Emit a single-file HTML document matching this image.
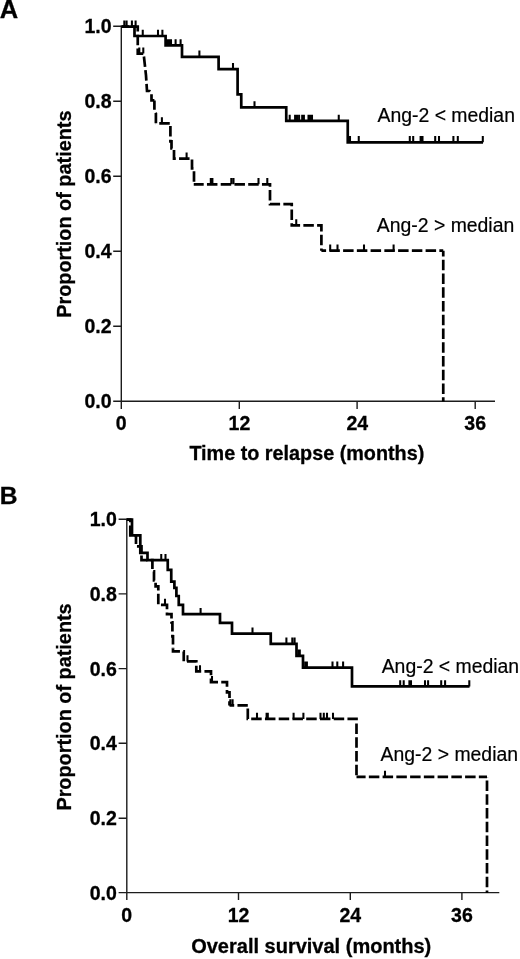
<!DOCTYPE html>
<html>
<head>
<meta charset="utf-8">
<title>Kaplan-Meier: Ang-2 vs median</title>
<style>
html,body{margin:0;padding:0;background:#fff;}
body{width:520px;height:959px;overflow:hidden;}
svg{display:block;}
text{font-family:"Liberation Sans",sans-serif;fill:#000;}
.b{font-weight:bold;stroke:#000;stroke-width:0.3;}
.r{stroke:#000;stroke-width:0.2;}
.ax{stroke:#1c1c1c;stroke-width:1.4;fill:none;}
.s{stroke:#000;stroke-width:2.7;fill:none;stroke-linejoin:miter;stroke-linecap:butt;}
.d{stroke:#000;stroke-width:2.7;fill:none;stroke-dasharray:10.5 3.25;}
.c{stroke:#000;stroke-width:2.05;fill:none;}
</style>
</head>
<body>
<svg width="520" height="959" viewBox="0 0 520 959">
<rect width="520" height="959" fill="#fff"/>

<!-- ================= PANEL A ================= -->
<g id="panelA">
<text class="b" x="-0.3" y="17.8" font-size="25.5">A</text>
<path class="ax" d="M121.3 25.5V409 M113.2 401.2H495"/>
<path class="ax" d="M113.2 26.2H121.3 M113.2 101.2H121.3 M113.2 176.2H121.3 M113.2 251.2H121.3 M113.2 326.2H121.3"/>
<path class="ax" d="M239.3 401V409 M357.1 401V409 M475.2 401V409"/>
<g class="b" font-size="19.5" text-anchor="end">
<text x="111.6" y="33">1.0</text>
<text x="111.6" y="108">0.8</text>
<text x="111.6" y="183">0.6</text>
<text x="111.6" y="258">0.4</text>
<text x="111.6" y="333">0.2</text>
<text x="111.6" y="408">0.0</text>
</g>
<g class="b" font-size="19.5" text-anchor="middle">
<text x="121.3" y="429.6">0</text>
<text x="239.4" y="429.6">12</text>
<text x="357.3" y="429.6">24</text>
<text x="475.2" y="429.6">36</text>
</g>
<text class="b" font-size="19.8" x="189.4" y="459.6">Time to relapse (months)</text>
<text class="b" font-size="19.85" transform="translate(71.2 317.8) rotate(-90)">Proportion of patients</text>
<text class="r" font-size="19.4" x="377.5" y="122.2">Ang-2 &lt; median</text>
<text class="r" font-size="19.4" x="376.8" y="232">Ang-2 &gt; median</text>
<g transform="translate(0 0.4)">
<path class="d" stroke-dashoffset="3.15" d="M121.6 26.25H137.75V53.2H143.6L146 75L147 90.6H149.5L151.5 93V100H154.4"/>
<path class="d" stroke-dashoffset="1.1" d="M154.4 100V110L155.9 113V123"/>
<path class="d" stroke-dashoffset="10.4" d="M155.9 123H170.4V141H171.5V148H174V158.2H192V168H194V183.9"/>
<path class="d" stroke-dashoffset="0.55" d="M193.75 183.9H270V203.75H291.75V225H321.4V250.3"/>
<path class="d" stroke-dashoffset="5.8" d="M321.4 250.3H443.25"/>
<path class="d" stroke-dashoffset="4.6" d="M443.25 250.3V401"/>
<path class="c" d="M139.3 53.2v-6.2 M143.3 53.2v-6.2 M161.9 123v-6.2 M186.6 158.2v-6.2 M210.8 183.9v-6.2 M212.4 183.9v-6.2 M231.3 183.9v-6.2 M233.5 183.9v-6.2 M258.5 183.9v-6.2 M267.3 183.9v-6.2 M296.25 225v-6.2 M330.2 250.3v-6.2 M337.5 250.3v-6.2 M364 250.3v-6.2 M393.6 250.3v-6.2"/>
<path class="s" d="M121.6 26.25H134.5V35.6H165.6V45H182V56.4H218.6V68.75H237.6V94H241.25V107H286.25V120.5H347.75V141.9H483"/>
<path class="c" d="M124.3 26.25v-6.2 M126.6 26.25v-6.2 M131.9 26.25v-6.2 M135.6 26.25v-6.2 M142.75 35.6v-6.2 M158 35.6v-6.2 M162.4 35.6v-6.2 M167 45v-6.2 M169 45v-6.2 M171 45v-6.2 M175.6 45v-6.2 M180.6 45v-6.2 M199.4 56.4v-6.2 M233 68.75v-6.2 M254.5 107v-6.2 M289.7 120.5v-6.2 M295.1 120.5v-6.2 M297 120.5v-6.2 M299.1 120.5v-6.2 M302.2 120.5v-6.2 M303.9 120.5v-6.2 M308.5 120.5v-6.2 M310.3 120.5v-6.2 M312 120.5v-6.2 M338.75 120.5v-6.2 M350 141.9v-6.2 M358.75 141.9v-6.2 M409.8 141.9v-6.2 M413.2 141.9v-6.2 M420.6 141.9v-6.2 M422.5 141.9v-6.2 M435.2 141.9v-6.2 M439 141.9v-6.2 M453.4 141.9v-6.2 M457.8 141.9v-6.2 M482.8 141.9v-6.2"/>
</g>
</g>

<!-- ================= PANEL B ================= -->
<g id="panelB">
<text class="b" x="-0.3" y="504.4" font-size="24.6">B</text>
<path class="ax" d="M126.8 518.5V900 M118.6 892.6H499.3"/>
<path class="ax" d="M118.6 519.2H126.8 M118.6 593.9H126.8 M118.6 668.6H126.8 M118.6 743.2H126.8 M118.6 818.3H126.8"/>
<path class="ax" d="M238.5 892.6V900 M350.3 892.6V900 M461.9 892.6V900"/>
<g class="b" font-size="19.5" text-anchor="end">
<text x="116.8" y="526.2">1.0</text>
<text x="116.8" y="600.8">0.8</text>
<text x="116.8" y="675.5">0.6</text>
<text x="116.8" y="750.2">0.4</text>
<text x="116.8" y="824.8">0.2</text>
<text x="116.8" y="899.5">0.0</text>
</g>
<g class="b" font-size="19.5" text-anchor="middle">
<text x="126.8" y="922.2">0</text>
<text x="238.5" y="922.2">12</text>
<text x="350.3" y="922.2">24</text>
<text x="461.9" y="922.2">36</text>
</g>
<text class="b" font-size="20" x="191.2" y="953">Overall survival (months)</text>
<text class="b" font-size="19.85" transform="translate(71 810.6) rotate(-90)">Proportion of patients</text>
<text class="r" font-size="19.4" x="381.7" y="672.8">Ang-2 &lt; median</text>
<text class="r" font-size="19.4" x="380.6" y="761.1">Ang-2 &gt; median</text>
<g transform="translate(0 0.4)">
<path class="d" stroke-dashoffset="4.3" d="M126.8 519.2H130.3V535H136V546H141.5V559.75H152.4V571H154V580H155.6V586H158.3V604.5H167V613.75H171.5V622H172.4V636H173V648"/>
<path class="d" stroke-dashoffset="0.55" d="M173 648V651H183.75V661H196.3V671H211V681.7H227V692H229.5V705"/>
<path class="d" stroke-dashoffset="5.8" d="M229.5 705H247.8"/>
<path class="d" stroke-dashoffset="10.6" d="M247.8 705V718.5H356.5V776.5"/>
<path class="d" stroke-dashoffset="1.4" d="M356.5 776.5H487"/>
<path class="d" stroke-dashoffset="10.2" d="M487 776.5V892.5"/>
<path class="c" d="M165 604.5v-6.2 M187.5 661v-6.2 M200 671v-6.2 M212 681.7v-6.2 M230.3 705v-6.2 M232.6 705v-6.2 M257 718.5v-6.2 M266.6 718.5v-6.2 M267.8 718.5v-6.2 M293.6 718.5v-6.2 M303.4 718.5v-6.2 M320.5 718.5v-6.2 M323.8 718.5v-6.2 M327 718.5v-6.2 M333 718.5v-6.2 M385 776.5v-6.2"/>
<path class="s" d="M126.8 519.2H132V535H140.3V552.5H147.5V559.75H167.75V569.4H171.25V581.25H174.4V587.5H176.4V595.6H178.75V604.4H183V613.75H220V622.5H232V633.25H270.75V643.4H296.5V655.4H303V667.3H352V686H469.5"/>
<path class="c" d="M161.25 559.75v-6.2 M165.5 559.75v-6.2 M200.6 613.75v-6.2 M252.5 633.25v-6.2 M286.4 643.4v-6.2 M292.3 643.4v-6.2 M294.6 643.4v-6.2 M298.4 655.4v-6.2 M299.8 655.4v-6.2 M305.2 667.3v-6.2 M306.9 667.3v-6.2 M332.5 667.3v-6.2 M337.3 667.3v-6.2 M343.1 667.3v-6.2 M400.2 686v-6.2 M403.7 686v-6.2 M409.4 686v-6.2 M411 686v-6.2 M425 686v-6.2 M428.1 686v-6.2 M441.2 686v-6.2 M445.1 686v-6.2 M469.3 686v-6.2"/>
</g>
</g>
</svg>
</body>
</html>
